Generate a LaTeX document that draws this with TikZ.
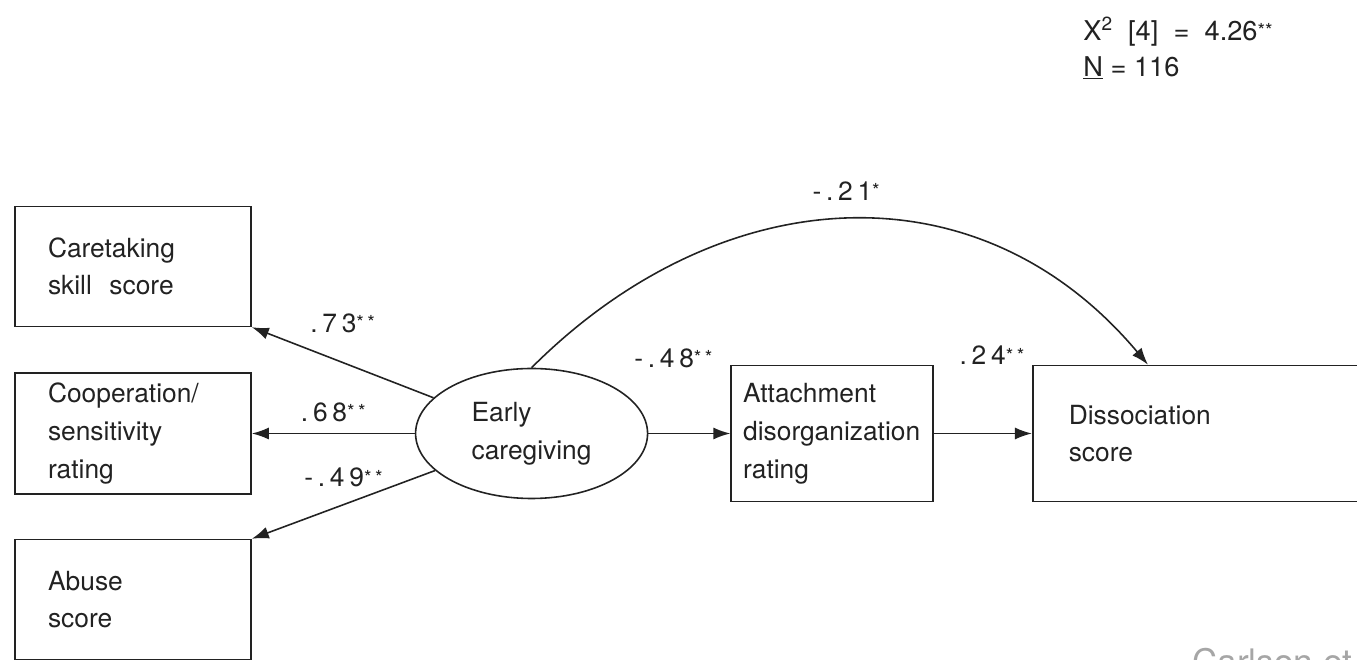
\documentclass[tikz,border=0pt]{standalone}
\usepackage{fontspec}
\setmainfont{TeX Gyre Heros}
\newfontfamily\coeffont[LetterSpace=18]{TeX Gyre Heros}
\usetikzlibrary{positioning,arrows.meta,shapes.geometric}
\usepackage{xcolor}
\definecolor{ink}{HTML}{222222}
\newcommand{\sigmark}[1]{\raisebox{1.5pt}{\fontsize{11}{11}\selectfont #1}}

\begin{document}
\begin{tikzpicture}[
    varBox/.style={rectangle, draw=ink, line width=0.9pt, align=left, text=ink, font=\fontsize{15}{21.5}\selectfont, minimum height=2.4cm},
    sideBox/.style={varBox, text width=3.4cm, inner xsep=0.66cm},
    latentNode/.style={ellipse, draw=ink, line width=0.9pt, align=left, text=ink, font=\fontsize{15}{21.5}\selectfont, minimum width=4.64cm, minimum height=2.6cm, inner sep=0pt},
    pathArrow/.style={-{Latex[length=3.4mm,width=2.4mm]}, line width=0.9pt, draw=ink},
    coefLabel/.style={font=\coeffont\fontsize{15}{18}\selectfont, text=ink, inner sep=1pt}
]
    \useasboundingbox (0,0) rectangle (27.14,13.2);

    \node[sideBox, minimum height=2.42cm] (coop) at (2.66,4.53) {Cooperation/\\sensitivity\\rating};
    \node[sideBox, above=0.9cm of coop] (care) {Caretaking\\skill\ \ score};
    \node[sideBox, below=0.88cm of coop] (abuse) {Abuse\\score};
    \node[latentNode, right=3.26cm of coop] (early) {Early\\caregiving};
    \node[varBox, text width=3.56cm, inner xsep=0.24cm, minimum height=2.72cm, right=1.64cm of early] (attach) {Attachment\\disorganization\\rating};
    \node[varBox, text width=5.52cm, inner xsep=0.72cm, minimum height=2.72cm, right=1.96cm of attach] (diss) {Dissociation\\score};

    \draw[pathArrow] (early.160) -- node[coefLabel, midway, above=0.54cm] {.73\sigmark{**}} (care.south east);
    \draw[pathArrow] (early.west) -- node[coefLabel, midway, above=0.18cm] {.68\sigmark{**}} (coop.east);
    \draw[pathArrow] (early.201) -- node[coefLabel, midway, above=0.3cm] {-.49\sigmark{**}} (abuse.north east);
    \draw[pathArrow] (early.east) -- node[coefLabel, midway, above=1.26cm, xshift=-0.32cm] {-.48\sigmark{**}} (attach.west);
    \draw[pathArrow] (attach.east) -- node[coefLabel, midway, above=1.32cm, xshift=0.18cm] {.24\sigmark{**}} (diss.west);

    % direct path to dissociation
    \draw[pathArrow] (early.north) to[out=45, in=130, looseness=1.1]
        node[coefLabel, pos=0.5, above=0.34cm] {-.21\sigmark{*}} ([xshift=2.32cm]diss.north west);

    \node[anchor=north west, align=left, inner sep=0pt, text=ink, font=\fontsize{15.5}{20.5}\selectfont] (fitStats) at (21.66,12.86)
        {X\textsuperscript{2}\ \ [4]\ \ =\ \ 4.26\sigmark{**}\\\underline{N} = 116};
    \node[anchor=base west, inner sep=0pt, text=gray!70, font=\fontsize{20}{24}\selectfont] (credit) at (23.84,-0.3) {Carlson et};
\end{tikzpicture}
\end{document}
